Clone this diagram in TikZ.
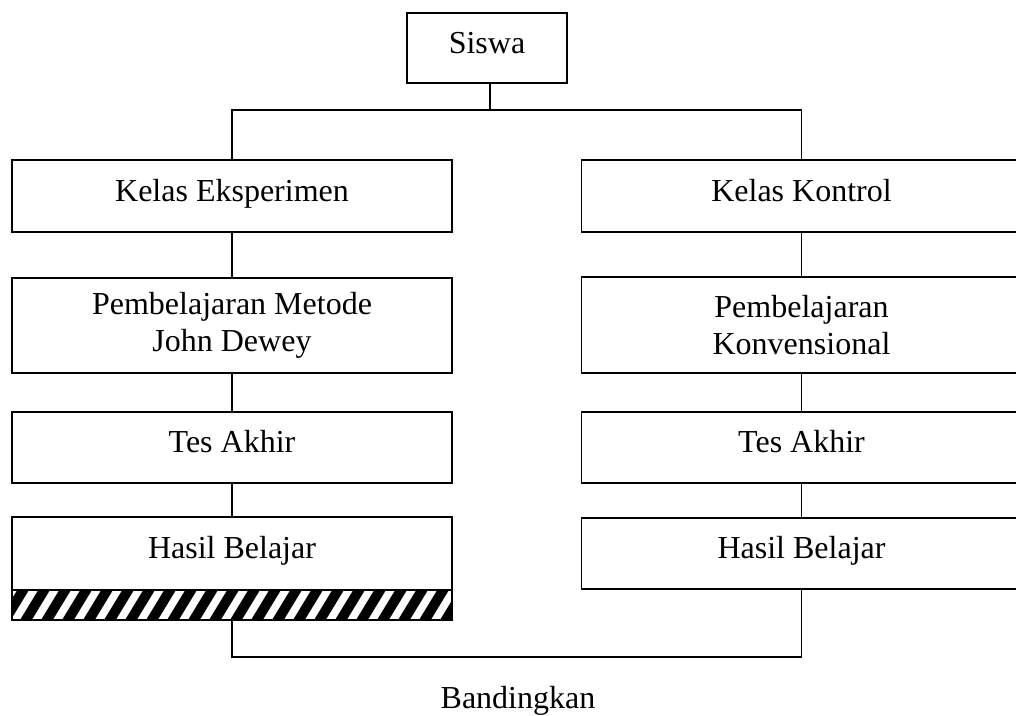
\documentclass[tikz,border=0pt]{standalone}
\usepackage{fontspec}
\setmainfont{Liberation Serif}
\begin{document}
\begin{tikzpicture}[x=1pt,y=-1pt,
  box/.style={draw, line width=1.5pt, rectangle, inner sep=0pt, align=center,
    minimum width=440pt, font=\fontsize{32}{37}\selectfont},
  one/.style={text height=22pt, text depth=12pt},
  conn/.style={line width=1.5pt},
  lbl/.style={inner sep=0pt, font=\fontsize{32}{37}\selectfont}]
\useasboundingbox (0,0) rectangle (1016,715);
% top
\node[box, one, minimum width=160pt, minimum height=70pt] (siswa) at (487,48) {Siswa};
\coordinate (tj) at (490,110);
% left column
\node[box, one, minimum height=72pt] (ke) at (232,196) {Kelas Eksperimen};
\node[box, minimum height=95pt] (pm) at (232,325.5) {Pembelajaran Metode\\John Dewey};
\node[box, one, minimum height=71pt] (tal) at (232,447.5) {Tes Akhir};
\node[box, one, minimum height=73pt] (hbl) at (232,553.5) {Hasil Belajar};
% hatched bar
\begin{scope}
  \clip (12,590) rectangle (452,620);
  \foreach \i in {-1,...,22} \draw[line width=10pt] ({\i*21},628) -- ({\i*21+28},582);
\end{scope}
\node[draw, line width=1.5pt, minimum width=440pt, minimum height=30pt, inner sep=0pt] (bar) at (232,605) {};
% right column
\node[box, one, minimum height=72pt] (kk) at (801.5,196) {Kelas Kontrol};
\node[box, minimum height=96pt] (pk) at (801.5,325) {Pembelajaran\\Konvensional};
\node[box, one, minimum height=71pt] (tar) at (801.5,447.5) {Tes Akhir};
\node[box, one, minimum height=71pt] (hbr) at (801.5,553.5) {Hasil Belajar};
% connectors
\draw[conn] (siswa.south -| tj) -- (tj);
\draw[conn] (ke.north) -- (ke.north |- tj) -- (kk.north |- tj) -- (kk.north);
\draw[conn] (ke.south) -- (pm.north);
\draw[conn] (pm.south) -- (tal.north);
\draw[conn] (tal.south) -- (hbl.north);
\draw[conn] (kk.south) -- (pk.north);
\draw[conn] (pk.south) -- (tar.north);
\draw[conn] (tar.south) -- (hbr.north);
\coordinate (bj) at (232,657);
\draw[conn] (bar.south) -- (bj) -- (bj -| hbr.south) -- (hbr.south);
\node[lbl, anchor=base] (band) at (518,708) {Bandingkan};
\end{tikzpicture}
\end{document}
